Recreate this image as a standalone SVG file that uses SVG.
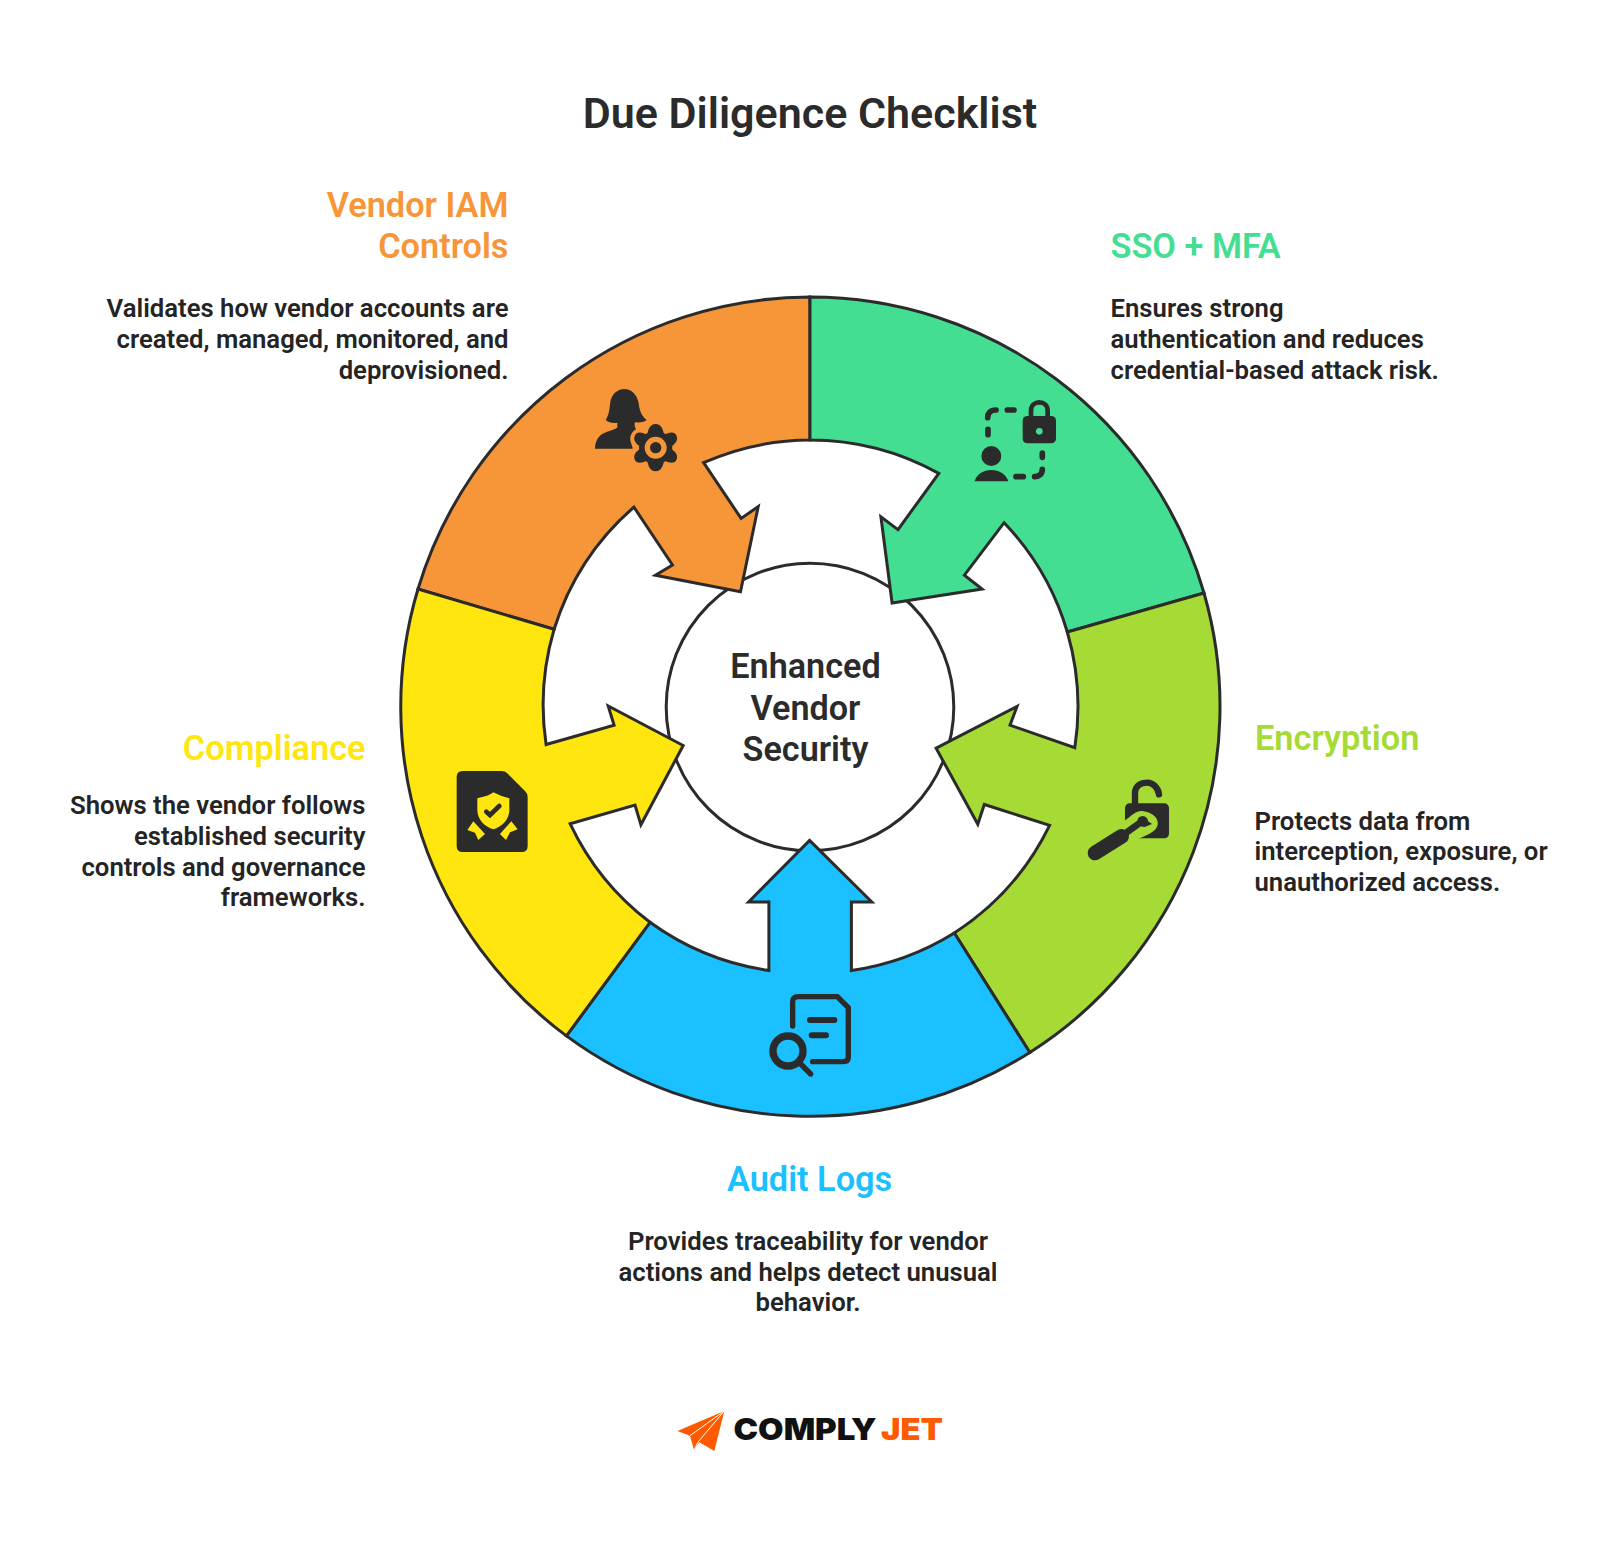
<svg xmlns="http://www.w3.org/2000/svg" width="1600" height="1556" viewBox="0 0 1600 1556">
<style>
text{font-family:Roboto,"Liberation Sans",sans-serif;font-weight:600}
.title{font-size:43px;fill:#2b2b2b}
.head{font-size:34.3px}
.body{font-size:25.7px;fill:#242424}
.center{font-size:34.2px;fill:#2b2b2b;text-anchor:middle}
.end{text-anchor:end}
.mid{text-anchor:middle}
.seg{stroke:#2b2b2b;stroke-width:3;stroke-linejoin:miter}
.ink{fill:#2b2b2b}
.line{fill:none;stroke:#2b2b2b;stroke-linecap:round}
</style>
<rect width="1600" height="1556" fill="#fff"/>
<text class="title" x="810" y="128" text-anchor="middle">Due Diligence Checklist</text>
<g id="center">
<circle cx="810" cy="707" r="143.8" fill="#fff" stroke="#2b2b2b" stroke-width="3"/>
<text class="center" x="805.5" y="678">Enhanced</text>
<text class="center" x="805.5" y="719.5">Vendor</text>
<text class="center" x="805.5" y="760.5">Security</text>
</g>
<g id="vendor-iam">
<path class="seg" fill="#F79539" d="M810 297 A410 410 0 0 0 418 589 L554.1 629.3 A267 267 0 0 1 633.9 507.1 L672.5 565 L655.4 575.2 L740.5 591.8 L758.2 506.6 L741.1 518.4 L703.6 462.7 A267 267 0 0 1 810 440 Z"/>
<g transform="translate(580 370) scale(.3333)">
<path class="ink" d="M77 150C90 130 88 110 92 90C100 65 120 57 132 57C155 57 172 75 176 100C178 120 185 140 200 150C190 158 175 158 165 157C162 165 165 172 168 178C155 185 148 200 152 215C155 225 158 232 158 236L45 236C45 215 55 195 75 188C90 182 108 178 112 172L112 158C100 160 85 158 77 150Z"/>
<circle class="ink" cx="227" cy="233" r="50"/>
<path class="ink" d="M227 162C245 162 250 180 252 195C265 187 285 182 290 198C296 215 280 226 268 233C280 240 296 251 290 268C285 284 265 279 252 271C250 286 245 304 227 304C209 304 204 286 202 271C189 279 169 284 164 268C158 251 174 240 186 233C174 226 158 215 164 198C169 182 189 187 202 195C204 180 209 162 227 162Z"/>
<circle cx="227" cy="233" r="33" fill="#F79539"/><circle class="ink" cx="227" cy="233" r="17"/>
</g>
<text class="head end" fill="#F79539" x="508.5" y="217">Vendor IAM</text>
<text class="head end" fill="#F79539" x="508.5" y="258">Controls</text>
<text class="body end" x="508.5" y="317">Validates how vendor accounts are</text>
<text class="body end" x="508.5" y="348">created, managed, monitored, and</text>
<text class="body end" x="508.5" y="378.5">deprovisioned.</text>
</g>
<g id="sso-mfa">
<path class="seg" fill="#44DE93" d="M810 297 A410 410 0 0 1 1204 593 L1067.3 632 A267 267 0 0 0 1004.1 522.7 L964.4 575.2 L982.1 589.1 L892.1 603 L880.9 516.8 L898 529.6 L938.8 473.4 A267 267 0 0 0 810 440 Z"/>
<g transform="translate(960 380) scale(.3333)">
<rect class="ink" x="188" y="108" width="100" height="82" rx="14"/>
<path class="line" stroke-width="14" d="M213 112V92C213 75 225 67 238 67C251 67 263 75 263 92V112"/>
<circle cx="238" cy="154" r="10" fill="#44DE93"/>
<path class="line" stroke-width="17" d="M83 113C83 100 90 90 108 90M142 90H162M84 148V164M247 219V232M247 268C247 282 238 290 224 290M168 290H190"/>
<circle class="ink" cx="94" cy="228" r="30"/>
<path class="ink" d="M44 304C50 282 70 270 94 270C118 270 138 282 145 304Z"/>
</g>
<text class="head" fill="#44DE93" x="1110.5" y="258">SSO + MFA</text>
<text class="body" x="1110.5" y="317">Ensures strong</text>
<text class="body" x="1110.5" y="348">authentication and reduces</text>
<text class="body" x="1110.5" y="378.5">credential-based attack risk.</text>
</g>
<g id="encryption">
<path class="seg" fill="#A5DB34" d="M1204 593 A410 410 0 0 1 1029.8 1052.5 L954.3 933 A267 267 0 0 0 1049.6 825.4 L984.3 804.5 L977.8 824.3 L936.1 748.2 L1017 706.4 L1010 725.2 L1074.8 747.7 A267 267 0 0 0 1067.3 632 Z"/>
<g transform="translate(1070 760) scale(.3333)">
<rect class="ink" x="165" y="130" width="132" height="105" rx="14"/>
<path class="line" stroke-width="19" d="M195 135V100C195 75 215 68 232 68C250 68 265 85 267 103"/>
<path fill="#A5DB34" d="M150 190C178 178 192 150 217 153C248 157 267 175 263 195C258 215 235 225 195 240L150 245Z"/>
<path class="line" stroke-width="44" d="M75 279L155 229"/>
<path class="line" stroke-width="20" d="M155 228L205 192"/>
<circle class="ink" cx="218" cy="184" r="16"/>
<path class="ink" d="M205 172L232 182L246 192L222 202Z"/>
</g>
<text class="head" fill="#A5DB34" x="1255" y="750">Encryption</text>
<text class="body" x="1254.5" y="829.5">Protects data from</text>
<text class="body" x="1254.5" y="860">interception, exposure, or</text>
<text class="body" x="1254.5" y="890.7">unauthorized access.</text>
</g>
<g id="audit-logs">
<path class="seg" fill="#1AC0FF" d="M1029.8 1052.5 A410 410 0 0 1 566.4 1035.9 L650 922.3 A267 267 0 0 0 768.9 970.5 L768.9 902 L748.6 902 L809.6 840.4 L871.8 902 L851.4 902 L851.4 970.5 A267 267 0 0 0 954.3 933 Z"/>
<g transform="translate(750 980) scale(.3333)">
<path class="line" stroke-width="16" d="M128 138V65Q128 50 145 50H262L295 83V232Q295 245 280 245H188"/>
<path class="line" stroke-width="18" d="M180 120H253M185 166H228"/>
<circle cx="114" cy="213" r="45" fill="none" stroke="#2b2b2b" stroke-width="22"/>
<path class="line" stroke-width="16" d="M152 252L182 282"/>
</g>
<text class="head mid" fill="#1AC0FF" x="809.6" y="1191">Audit Logs</text>
<text class="body mid" x="808" y="1250">Provides traceability for vendor</text>
<text class="body mid" x="808" y="1280.5">actions and helps detect unusual</text>
<text class="body mid" x="808" y="1311">behavior.</text>
</g>
<g id="compliance">
<path class="seg" fill="#FFE60F" d="M566.4 1035.9 A410 410 0 0 1 418 589 L554.1 629.3 A267 267 0 0 0 546.1 744.5 L614.1 725.2 L608.2 705.9 L683.2 745.5 L640.9 824.8 L635 805 L570.2 823.8 A267 267 0 0 0 650 922.3 Z"/>
<g transform="translate(440 760) scale(.3333)">
<path class="ink" d="M68 33H185Q195 33 202 40L255 93Q263 100 263 112V258Q263 276 245 276H68Q50 276 50 258V51Q50 33 68 33Z"/>
<path fill="#FFE60F" d="M112 115C135 110 150 105 160 97C175 105 190 110 208 115V150C208 180 185 200 160 208C135 200 112 180 112 150Z"/>
<path class="line" stroke-width="14" d="M139 155L150 165L178 138"/>
<path fill="#FFE60F" d="M100 184L135 222L115 240L105 218L82 210ZM214 184L180 222L198 240L210 217L233 208Z"/>
</g>
<text class="head end" fill="#FFE60F" x="365.5" y="760">Compliance</text>
<text class="body end" x="365.5" y="814">Shows the vendor follows</text>
<text class="body end" x="365.5" y="845">established security</text>
<text class="body end" x="365.5" y="875.5">controls and governance</text>
<text class="body end" x="365.5" y="906">frameworks.</text>
</g>
<g id="logo">
<g transform="translate(670 1400) scale(.3333)">
<path fill="#FF5A00" d="M163 33L22 93L60 107L72 150L88 127L133 153Z"/>
<path fill="none" stroke="#fff" stroke-width="3" d="M163 33L60 107M163 33L85 125L72 150"/>
</g>
<text x="733.5" y="1440" font-size="30" style="font-family:Inter,'Liberation Sans',sans-serif;font-weight:900" fill="#111" textLength="143" lengthAdjust="spacingAndGlyphs">COMPLY</text>
<text x="881" y="1440" font-size="30" style="font-family:Inter,'Liberation Sans',sans-serif;font-weight:900" fill="#FF5A00" textLength="62" lengthAdjust="spacingAndGlyphs">JET</text>
</g>
</svg>
